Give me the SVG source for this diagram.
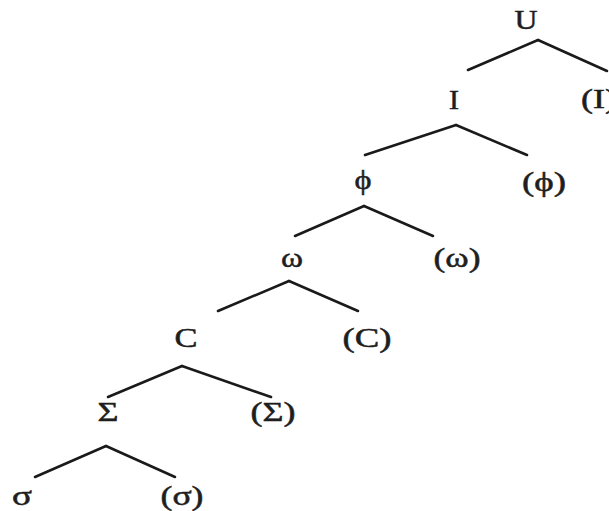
<svg xmlns="http://www.w3.org/2000/svg" width="609" height="511" viewBox="0 0 609 511">
<style>
text{font-family:"Liberation Serif","Times New Roman",serif;font-size:27px;fill:#1e1e1e;stroke:#1e1e1e;stroke-width:0.5;text-anchor:middle}
.e{stroke:#1a1a1a;stroke-width:2.6;fill:none;stroke-linecap:round}
</style>
<rect width="609" height="511" fill="#ffffff"/>
<g id="connectors">
<line class="e" x1="538" y1="40" x2="468" y2="70"/>
<line class="e" x1="538" y1="40" x2="607" y2="71"/>
<line class="e" x1="456" y1="125" x2="365" y2="155"/>
<line class="e" x1="456" y1="125" x2="527" y2="155"/>
<line class="e" x1="364" y1="206" x2="295" y2="236"/>
<line class="e" x1="364" y1="206" x2="433" y2="236"/>
<line class="e" x1="289" y1="281" x2="218" y2="311"/>
<line class="e" x1="289" y1="281" x2="358" y2="311"/>
<line class="e" x1="182" y1="366" x2="108" y2="397"/>
<line class="e" x1="182" y1="366" x2="271" y2="397"/>
<line class="e" x1="106" y1="446" x2="35" y2="477"/>
<line class="e" x1="106" y1="446" x2="175" y2="477"/>
</g>
<g id="node-U"><text x="526" y="29" textLength="23" lengthAdjust="spacingAndGlyphs">U</text></g>
<g id="node-I"><text x="454" y="109" textLength="10" lengthAdjust="spacingAndGlyphs">I</text></g>
<g id="node-I-paren"><text x="599" y="108" textLength="36" lengthAdjust="spacingAndGlyphs">(I)</text></g>
<g id="node-phi"><text x="363" y="189" textLength="17" lengthAdjust="spacingAndGlyphs">ϕ</text></g>
<g id="node-phi-paren"><text x="544" y="191" textLength="44" lengthAdjust="spacingAndGlyphs">(ϕ)</text></g>
<g id="node-omega"><text x="292" y="267" textLength="22" lengthAdjust="spacingAndGlyphs">ω</text></g>
<g id="node-omega-paren"><text x="457" y="267" textLength="47" lengthAdjust="spacingAndGlyphs">(ω)</text></g>
<g id="node-C"><text x="186" y="347" textLength="23" lengthAdjust="spacingAndGlyphs">C</text></g>
<g id="node-C-paren"><text x="367" y="347" textLength="49" lengthAdjust="spacingAndGlyphs">(C)</text></g>
<g id="node-Sigma"><text x="108" y="421" textLength="21" lengthAdjust="spacingAndGlyphs">Σ</text></g>
<g id="node-Sigma-paren"><text x="273" y="421" textLength="45" lengthAdjust="spacingAndGlyphs">(Σ)</text></g>
<g id="node-sigma"><text x="22" y="505" textLength="20" lengthAdjust="spacingAndGlyphs">σ</text></g>
<g id="node-sigma-paren"><text x="182" y="505" textLength="43" lengthAdjust="spacingAndGlyphs">(σ)</text></g>
</svg>
